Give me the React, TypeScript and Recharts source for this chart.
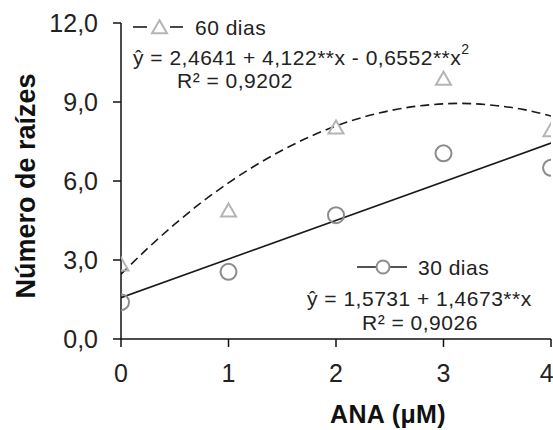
import React from 'react';
import { ComposedChart, Line, Scatter, XAxis, YAxis } from 'recharts';

const doses = [0, 1, 2, 3, 4];
const obs30 = [1.4, 2.55, 4.7, 7.05, 6.5];
const obs60 = [2.8, 4.85, 8.0, 9.85, 7.9];

const fitX60 = [0, 0.25, 0.5, 0.75, 1, 1.25, 1.5, 1.75, 2, 2.25, 2.5, 2.75, 3, 3.25, 3.5, 3.75, 4];
const fitY60 = [2.46, 3.45, 4.36, 5.19, 5.93, 6.59, 7.17, 7.67, 8.09, 8.42, 8.67, 8.84, 8.93, 8.94, 8.86, 8.71, 8.47];
const fitX30 = [0, 4];
const fitY30 = [1.57, 7.44];

const xTicks = [0, 1, 2, 3, 4];
const yTicks = [0, 3, 6, 9, 12];

const label60 = '60 dias';
const eq60 = 'ŷ = 2,4641 + 4,122**x - 0,6552**x';
const r60 = 'R² = 0,9202';
const label30 = '30 dias';
const eq30 = 'ŷ = 1,5731 + 1,4673**x';
const r30 = 'R² = 0,9026';
const xTitle = 'ANA (μM)';
const yTitle = 'Número de raízes';

const pts30 = doses.map((x, i) => ({ x, y: obs30[i] }));
const pts60 = doses.map((x, i) => ({ x, y: obs60[i] }));
const line60 = fitX60.map((x, i) => ({ x, y: fitY60[i] }));
const line30 = fitX30.map((x, i) => ({ x, y: fitY30[i] }));

const FONT = '"Liberation Sans", Arial, sans-serif';
const TXT = '#222';

const Circle = (props: any) => {
  const { cx, cy } = props;
  return <circle cx={cx} cy={cy} r={8} fill="none" stroke="#8c8c8c" strokeWidth={2} />;
};
const Tri = (props: any) => {
  const { cx, cy } = props;
  const w = 7.5, h = 13;
  return (
    <polygon
      points={`${cx},${cy - h * 0.6} ${cx + w},${cy + h * 0.4} ${cx - w},${cy + h * 0.4}`}
      fill="none"
      stroke="#b4b4b4"
      strokeWidth={2}
    />
  );
};

const fmt = (v: number) => v.toFixed(1).replace('.', ',');

const ann = { fontSize: 21, fill: TXT, letterSpacing: 0.5, dominantBaseline: 'central' as const };

export default function App() {
  return (
    <div style={{ position: 'absolute', left: 0, top: 0, width: 553, height: 430, background: '#fff' }}>
      <ComposedChart
        width={553}
        height={430}
        margin={{ top: 23, right: 2, bottom: 0, left: 0 }}
        style={{ fontFamily: FONT }}
      >
        <XAxis
          type="number"
          dataKey="x"
          domain={[0, 4]}
          ticks={xTicks}
          height={91}
          axisLine={{ stroke: '#111', strokeWidth: 1.5 }}
          tickLine={{ stroke: '#111', strokeWidth: 1.5 }}
          tickSize={8}
          tickMargin={17}
          tick={{ fill: TXT, fontSize: 25, fontFamily: FONT }}
          allowDataOverflow
        />
        <YAxis
          type="number"
          domain={[0, 12]}
          ticks={yTicks}
          width={121}
          axisLine={{ stroke: '#111', strokeWidth: 1.5 }}
          tickLine={{ stroke: '#111', strokeWidth: 1.5 }}
          tickSize={8}
          tickMargin={15}
          tickFormatter={fmt}
          tick={{ fill: TXT, fontSize: 25, fontFamily: FONT }}
        />
        <Line
          data={line60}
          dataKey="y"
          type="natural"
          stroke="#1a1a1a"
          strokeWidth={1.6}
          strokeDasharray="9 5"
          dot={false}
          activeDot={false}
          isAnimationActive={false}
        />
        <Line
          data={line30}
          dataKey="y"
          type="linear"
          stroke="#1a1a1a"
          strokeWidth={1.6}
          dot={false}
          activeDot={false}
          isAnimationActive={false}
        />
        <Scatter data={pts60} dataKey="y" shape={<Tri />} isAnimationActive={false} />
        <Scatter data={pts30} dataKey="y" shape={<Circle />} isAnimationActive={false} />
      </ComposedChart>
      <svg
        width={553}
        height={430}
        style={{ position: 'absolute', left: 0, top: 0, pointerEvents: 'none', fontFamily: FONT }}
      >
        {/* 60 dias legend */}
        <line x1={133} y1={27} x2={147} y2={27} stroke="#1a1a1a" strokeWidth={1.6} />
        <line x1={170} y1={27} x2={183} y2={27} stroke="#1a1a1a" strokeWidth={1.6} />
        <Tri cx={159.5} cy={28} />
        <text x={195} y={27} {...ann}>{label60}</text>
        <text x={133} y={57} {...ann}>
          {eq60}
          <tspan fontSize={14} dy={-8}>2</tspan>
        </text>
        <text x={177} y={80} {...ann}>{r60}</text>

        {/* 30 dias legend */}
        <line x1={357} y1={267} x2={407} y2={267} stroke="#1a1a1a" strokeWidth={1.6} />
        <circle cx={383} cy={267} r={6.5} fill="#fff" stroke="#8c8c8c" strokeWidth={2} />
        <text x={418} y={267} {...ann}>{label30}</text>
        <text x={307} y={298} {...ann}>{eq30}</text>
        <text x={362} y={322} {...ann}>{r30}</text>

        {/* axis titles */}
        <text x={388} y={414} fontSize={25} letterSpacing={0.4} fontWeight="bold" fill="#111" textAnchor="middle" dominantBaseline="central">
          {xTitle}
        </text>
        <text
          x={26}
          y={186}
          fontSize={27}
          fontWeight="bold"
          fill="#111"
          textAnchor="middle"
          dominantBaseline="central"
          transform="rotate(-90 26 186)"
        >
          {yTitle}
        </text>
      </svg>
    </div>
  );
}
